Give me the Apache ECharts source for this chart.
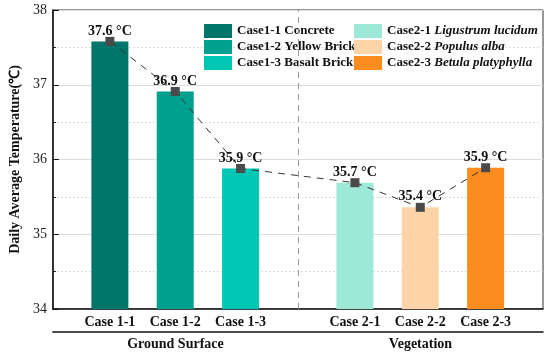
<!DOCTYPE html>
<html><head><meta charset="utf-8">
<script src="https://cdn.jsdelivr.net/npm/echarts@6/dist/echarts.min.js"></script>
<style>html,body{margin:0;padding:0;background:#fff}#c{width:550px;height:356px}</style>
</head><body><div id="c"></div>
<script>
const categories = ['Case 1-1','Case 1-2','Case 1-3','Case 2-1','Case 2-2','Case 2-3'];
const xPositions = [1, 2, 3, 4.75, 5.75, 6.75];
const temperatures = [37.58, 36.91, 35.88, 35.69, 35.36, 35.89];
const valueLabels = ['37.6 °C','36.9 °C','35.9 °C','35.7 °C','35.4 °C','35.9 °C'];
const legendMain = ['Case1-1','Case1-2','Case1-3','Case2-1','Case2-2','Case2-3'];
const legendDesc = ['Concrete','Yellow Brick','Basalt Brick','Ligustrum lucidum','Populus alba','Betula platyphylla'];
const legendItalic = [false,false,false,true,true,true];
const groups = ['Ground Surface','Vegetation'];
const yTicks = [34,35,36,37,38];
const colors = ['#00766b','#00a08f','#00c7b4','#9de8d7','#fdd4a8','#fb8c1d'];

const F = '"Liberation Serif","Times New Roman",serif';
const seriesNames = legendMain.map((m,i)=>m+' '+legendDesc[i]);

const barSeries = categories.map((c,i)=>({
  name: seriesNames[i], type:'bar', xAxisIndex:0, yAxisIndex:0, stack:'bars',
  barWidth:37, itemStyle:{color:colors[i]},
  data:[[xPositions[i], temperatures[i]]], z:2,
  markLine: i===0 ? {silent:true, symbol:'none', label:{show:false},
    lineStyle:{color:'#999', type:[6,5], width:1},
    data:[{xAxis:(xPositions[2]+xPositions[3])/2}]} : undefined
}));

const legendFmt = name => {
  const i = seriesNames.indexOf(name);
  return '{a|'+legendMain[i]+' }' + (legendItalic[i] ? '{i|'+legendDesc[i]+'}' : '{a|'+legendDesc[i]+'}');
};
const legendText = {fontFamily:F, rich:{
  a:{fontFamily:F,fontWeight:'bold',fontSize:13,color:'#111'},
  i:{fontFamily:F,fontWeight:'bold',fontStyle:'italic',fontSize:13,color:'#111'}}};

const option = {
  animation:false,
  grid:{left:44, right:7, top:10, bottom:47, show:true, borderColor:'#333', borderWidth:1, containLabel:false},
  legend:[
    {data:seriesNames.slice(0,3), orient:'vertical', left:204, top:24, itemWidth:28, itemHeight:14, itemGap:2,
     icon:'rect', formatter:legendFmt, textStyle:legendText, padding:0},
    {data:seriesNames.slice(3), orient:'vertical', left:354, top:24, itemWidth:28, itemHeight:14, itemGap:2,
     icon:'rect', formatter:legendFmt, textStyle:legendText, padding:0}
  ],
  xAxis:[
    {type:'value', min:0.128, max:7.628, position:'bottom',
     axisLine:{show:true, lineStyle:{color:'#111', width:1.5}},
     axisTick:{show:false}, splitLine:{show:false},
     axisLabel:{customValues:xPositions, formatter:v=>{const i=xPositions.findIndex(p=>Math.abs(p-v)<1e-6);return i>=0?categories[i]:'';},
       fontFamily:F, fontWeight:'bold', fontSize:14, color:'#111', margin:6}},
    {type:'category', data:groups, position:'bottom', offset:23, gridIndex:0,
     axisLine:{show:true, lineStyle:{color:'#111', width:1.5}},
     axisTick:{show:false}, splitLine:{show:false},
     axisLabel:{fontFamily:F, fontWeight:'bold', fontSize:14, color:'#111', margin:5}}
  ],
  yAxis:{type:'value', min:34, max:38, interval:1,
    name:'Daily Average Temperature(℃)', nameLocation:'middle', nameGap:28,
    nameTextStyle:{fontFamily:F, fontWeight:'bold', fontSize:14, color:'#111'},
    axisLine:{show:true, lineStyle:{color:'#111', width:1.5}},
    axisTick:{show:true, inside:true, length:6, lineStyle:{color:'#111'}},
    minorTick:{show:true, splitNumber:2, length:3, lineStyle:{color:'#111'}},
    axisLabel:{fontFamily:F, fontSize:14, color:'#222', margin:6,
      formatter:v=>yTicks.includes(v)?String(v):''},
    splitLine:{show:true, lineStyle:{color:'#dcdcdc', width:1}},
    minorSplitLine:{show:true, lineStyle:{color:'#dcdcdc', type:[2,2]}}
  },
  series:[
    ...barSeries,
    {type:'line', name:'trend', data:xPositions.map((x,i)=>[x,temperatures[i]]), z:5,
     symbol:'rect', symbolSize:9, itemStyle:{color:'#4a4a4a'},
     lineStyle:{color:'#333', width:1, type:[7,6]},
     label:{show:true, position:'top', distance:-1, formatter:p=>valueLabels[p.dataIndex],
       fontFamily:F, fontWeight:'bold', fontSize:14, color:'#111'}}
  ]
};
echarts.init(document.getElementById('c')).setOption(option);
</script></body></html>
